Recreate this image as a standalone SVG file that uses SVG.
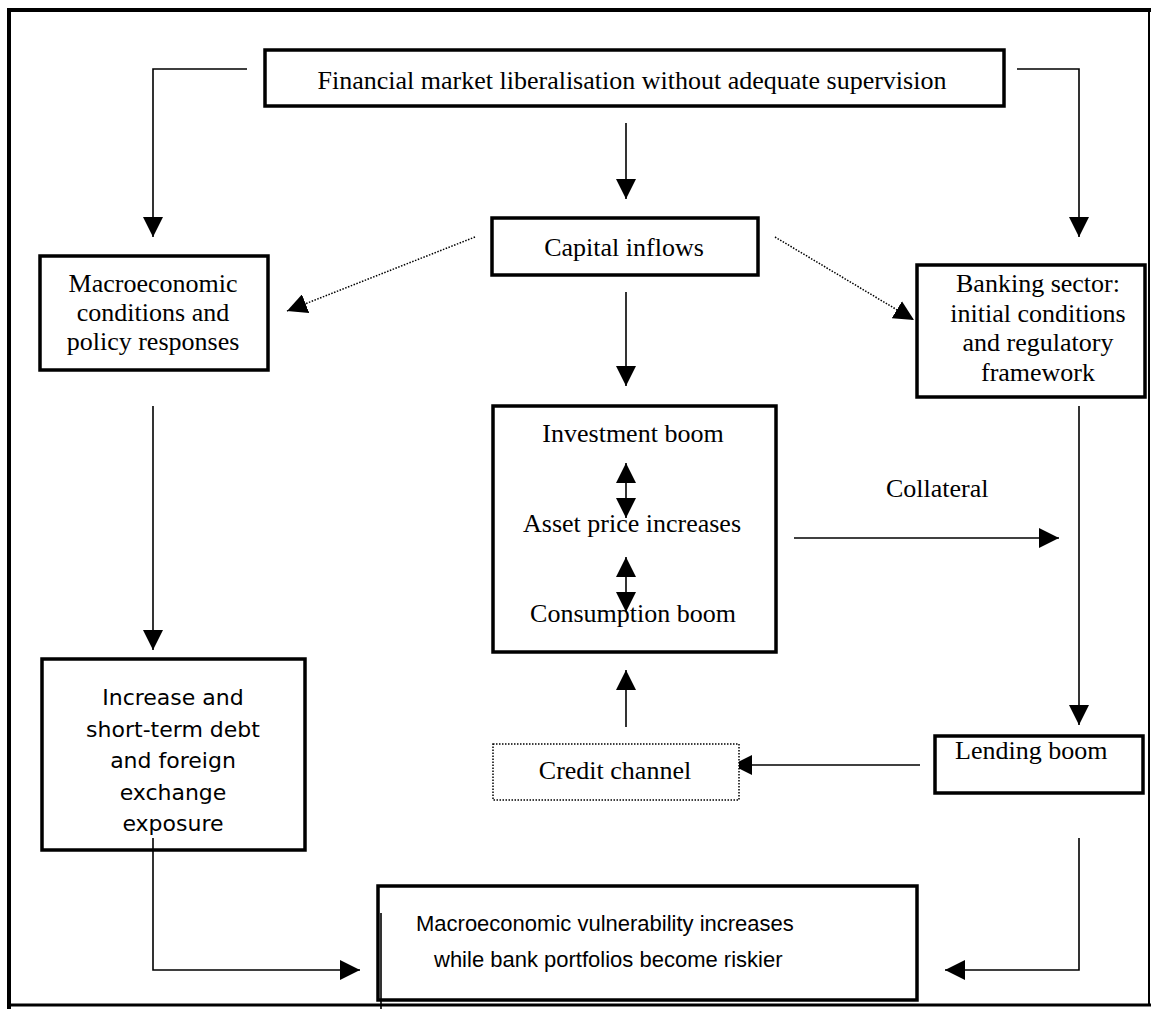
<svg xmlns="http://www.w3.org/2000/svg" width="1151" height="1009" viewBox="0 0 1151 1009">
<defs>
<style>
.box{fill:#fff;stroke:#000;stroke-width:3.5}
.dbox{fill:#fff;stroke:#000;stroke-width:1.5;stroke-dasharray:1.5 1.5}
.serif{font-family:"Liberation Serif","Times New Roman",serif;font-size:26px;fill:#000}
.sans{font-family:"DejaVu Sans",sans-serif;font-size:22px;fill:#000}
.arial{font-family:"Liberation Sans",Arial,sans-serif;font-size:22px;fill:#000}
.c{text-anchor:middle}
.ln{fill:none;stroke:#000;stroke-width:1.6}
.dot{fill:none;stroke:#000;stroke-width:1.5;stroke-dasharray:1.5 1.5}
.frame{fill:none;stroke:#000}
</style>
<marker id="ah" markerUnits="userSpaceOnUse" markerWidth="20" markerHeight="20" refX="20" refY="10" orient="auto-start-reverse" viewBox="0 0 20 20">
<path d="M0,0 L20,10 L0,20 z" fill="#000"/>
</marker>
</defs>
<rect width="1151" height="1009" fill="#fff"/>
<g id="frame">
<path class="frame" stroke-width="4" d="M7,10 H1151"/>
<path class="frame" stroke-width="4" d="M9,8 V1009"/>
<path class="frame" stroke-width="3" d="M7,1005 H1151"/>
<path class="frame" stroke-width="2" d="M1149,10 V1005"/>
</g>
<g id="connectors">
<path class="ln" marker-end="url(#ah)" d="M247,69 H153 V237"/>
<path class="ln" marker-end="url(#ah)" d="M626,123 V199"/>
<path class="ln" marker-end="url(#ah)" d="M1017,69 H1079 V237"/>
<path class="dot" marker-end="url(#ah)" d="M475,237 L287,311"/>
<path class="dot" marker-end="url(#ah)" d="M775,237 L914,320"/>
<path class="ln" marker-end="url(#ah)" d="M626,292 V386"/>
<path class="ln" marker-end="url(#ah)" d="M153,406 V650"/>
<path class="ln" marker-end="url(#ah)" d="M1079,406 V725"/>
<path class="ln" marker-end="url(#ah)" d="M794,538 H1059"/>
<path class="ln" marker-end="url(#ah)" d="M626,727 V670"/>
<path class="ln" marker-end="url(#ah)" d="M920,765 H732"/>
<path class="ln" marker-end="url(#ah)" d="M1079,838 V970 H945"/>
</g>
<g id="n-top">
<rect class="box" x="265" y="50" width="739" height="56"/>
<text class="serif c" x="632" y="89">Financial market liberalisation without adequate supervision</text>
</g>
<g id="n-capital">
<rect class="box" x="492" y="218" width="266" height="57"/>
<text class="serif c" x="624" y="256">Capital inflows</text>
</g>
<g id="n-macro">
<rect class="box" x="40" y="256" width="228" height="114"/>
<text class="serif c" x="153" y="292">Macroeconomic</text>
<text class="serif c" x="153" y="321">conditions and</text>
<text class="serif c" x="153" y="350">policy responses</text>
</g>
<g id="n-banking">
<rect class="box" x="917" y="265" width="228" height="132"/>
<text class="serif c" x="1038" y="292">Banking sector:</text>
<text class="serif c" x="1038" y="322">initial conditions</text>
<text class="serif c" x="1038" y="351">and regulatory</text>
<text class="serif c" x="1038" y="381">framework</text>
</g>
<g id="n-boom">
<rect class="box" x="493" y="406" width="283" height="246"/>
<text class="serif c" x="633" y="442">Investment boom</text>
<text class="serif c" x="632" y="532">Asset price increases</text>
<text class="serif c" x="633" y="622">Consumption boom</text>
</g>
<g id="boom-arrows">
<path class="ln" marker-start="url(#ah)" marker-end="url(#ah)" d="M626,463 V518"/>
<path class="ln" marker-start="url(#ah)" marker-end="url(#ah)" d="M626,557 V612"/>
</g>
<g id="n-collateral">
<text class="serif" x="886" y="497">Collateral</text>
</g>
<g id="n-credit">
<rect class="dbox" x="493" y="744" width="246" height="56"/>
<text class="serif c" x="615" y="779">Credit channel</text>
</g>
<g id="n-lending">
<rect class="box" x="935" y="736" width="208" height="57"/>
<text class="serif" x="955" y="759">Lending boom</text>
</g>
<g id="n-increase">
<rect class="box" x="42" y="659" width="263" height="191"/>
<text class="sans c" x="173" y="705">Increase and</text>
<text class="sans c" x="173" y="737">short-term debt</text>
<text class="sans c" x="173" y="768">and foreign</text>
<text class="sans c" x="173" y="800">exchange</text>
<text class="sans c" x="173" y="831">exposure</text>
</g>
<g id="connector-increase">
<path class="ln" marker-end="url(#ah)" d="M153,838 V970 H360"/>
</g>
<g id="n-bottom">
<rect class="box" x="378" y="886" width="539" height="114"/>
<path class="ln" stroke-width="1" d="M381,913 V1009"/>
<text class="arial" x="416" y="931">Macroeconomic vulnerability increases</text>
<text class="arial" x="434" y="967">while bank portfolios become riskier</text>
</g>
</svg>
